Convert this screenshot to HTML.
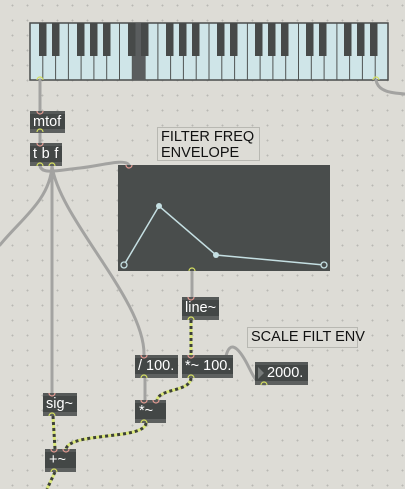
<!DOCTYPE html>
<html><head><style>
body{margin:0;width:405px;height:489px;overflow:hidden;background:#dddcd6;
background-image:radial-gradient(circle,#b9b9b4 0.8px,transparent 1.1px);background-size:15px 15px;background-position:5px 13px;
font-family:"Liberation Sans",sans-serif;position:relative}
.b{position:absolute;background:#434746;color:#fff;font-size:14.5px;box-sizing:border-box;border-top:3px solid #555958;border-bottom:4px solid #5d605f;padding-left:4px;line-height:16px;white-space:nowrap}
.c{position:absolute;border:1px solid #b8b8b2;box-sizing:border-box;font-size:14.5px;color:#111;padding:1px 3px;line-height:16px;background:#dddcd6;white-space:nowrap}
svg{position:absolute;left:0;top:0}
</style></head><body>
<svg width="405" height="489">
<rect x="30" y="23" width="358" height="57" fill="#cfe5e8" stroke="#4a4d4c" stroke-width="1.5"/>
<g stroke="#4f5352" stroke-width="1">
<line x1="42.8" y1="23" x2="42.8" y2="80"/><line x1="55.6" y1="23" x2="55.6" y2="80"/><line x1="68.4" y1="23" x2="68.4" y2="80"/><line x1="81.1" y1="23" x2="81.1" y2="80"/><line x1="93.9" y1="23" x2="93.9" y2="80"/><line x1="106.7" y1="23" x2="106.7" y2="80"/><line x1="119.5" y1="23" x2="119.5" y2="80"/><line x1="132.3" y1="23" x2="132.3" y2="80"/><line x1="145.1" y1="23" x2="145.1" y2="80"/><line x1="157.9" y1="23" x2="157.9" y2="80"/><line x1="170.6" y1="23" x2="170.6" y2="80"/><line x1="183.4" y1="23" x2="183.4" y2="80"/><line x1="196.2" y1="23" x2="196.2" y2="80"/><line x1="209" y1="23" x2="209" y2="80"/><line x1="221.8" y1="23" x2="221.8" y2="80"/><line x1="234.6" y1="23" x2="234.6" y2="80"/><line x1="247.4" y1="23" x2="247.4" y2="80"/><line x1="260.1" y1="23" x2="260.1" y2="80"/><line x1="272.9" y1="23" x2="272.9" y2="80"/><line x1="285.7" y1="23" x2="285.7" y2="80"/><line x1="298.5" y1="23" x2="298.5" y2="80"/><line x1="311.3" y1="23" x2="311.3" y2="80"/><line x1="324.1" y1="23" x2="324.1" y2="80"/><line x1="336.9" y1="23" x2="336.9" y2="80"/><line x1="349.6" y1="23" x2="349.6" y2="80"/><line x1="362.4" y1="23" x2="362.4" y2="80"/><line x1="375.2" y1="23" x2="375.2" y2="80"/>
</g>
<rect x="132.3" y="23" width="12.8" height="57" fill="#5a5d5e"/>
<g fill="#474a49">
<rect x="39" y="23" width="7.5" height="33"/><rect x="52" y="23" width="7.5" height="33"/>
<rect x="77" y="23" width="7.5" height="33"/><rect x="90" y="23" width="7.5" height="33"/><rect x="103" y="23" width="7.5" height="33"/>
<rect x="128" y="23" width="7.5" height="33"/><rect x="141" y="23" width="7.5" height="33"/>
<rect x="166" y="23" width="7.5" height="33"/><rect x="179" y="23" width="7.5" height="33"/><rect x="192" y="23" width="7.5" height="33"/>
<rect x="217" y="23" width="7.5" height="33"/><rect x="230" y="23" width="7.5" height="33"/>
<rect x="255" y="23" width="7.5" height="33"/><rect x="268" y="23" width="7.5" height="33"/><rect x="281" y="23" width="7.5" height="33"/>
<rect x="306" y="23" width="7.5" height="33"/><rect x="319" y="23" width="7.5" height="33"/>
<rect x="344" y="23" width="7.5" height="33"/><rect x="357" y="23" width="7.5" height="33"/><rect x="370" y="23" width="7.5" height="33"/>
</g>
<g fill="none" stroke="#a3a3a1" stroke-width="3" stroke-linecap="round">
<path d="M40 80 V111"/><path d="M40 132 V143"/>
<path d="M376 80 C378 92 392 93 405 94"/>
<path d="M40 166 C42 175 60 170 80 168 C100 166 125 158 129 165"/>
<path d="M52 166 C50 200 20 220 0 245"/>
<path d="M52 166 V393"/>
<path d="M52 166 C60 220 145 300 144 355"/>
<path d="M192 271 V297"/>
<path d="M145 378 V400"/>
<path d="M226 356 C230 340 238 348 245 360 C252 372 255 385 265 384"/>
</g>
<g fill="none" stroke-width="3">
<g stroke="#dbe87a"><path d="M191 320 V355"/><path d="M191 378 C190 392 160 388 157 400"/><path d="M53 416 L55 449"/><path d="M146 423 C145 440 70 432 66 449"/><path d="M55 472 L47 489"/></g>
<g stroke="#3c3f3a" stroke-dasharray="3 3"><path d="M191 320 V355"/><path d="M191 378 C190 392 160 388 157 400"/><path d="M53 416 L55 449"/><path d="M146 423 C145 440 70 432 66 449"/><path d="M55 472 L47 489"/></g>
</g>
<rect x="118" y="165" width="212" height="106" fill="#494d4c"/>
<polyline points="124,265 159,206 216,255 324,265" fill="none" stroke="#c5dfe2" stroke-width="1.5"/>
<circle cx="124" cy="265" r="3" fill="#494d4c" stroke="#c5dfe2" stroke-width="1.3"/>
<circle cx="159" cy="206" r="3" fill="#c5dfe2"/>
<circle cx="216" cy="255" r="3" fill="#c5dfe2"/>
<circle cx="324" cy="265" r="3" fill="#494d4c" stroke="#c5dfe2" stroke-width="1.3"/>
</svg>
<div class="b" style="left:30px;top:111px;width:35px;height:22px;padding-left:3px">mtof</div>
<div class="b" style="left:30px;top:143px;width:32px;height:23px;padding-left:3px;letter-spacing:0.3px">t b f</div>
<div class="c" style="left:157px;top:127px;width:103px;height:34px">FILTER FREQ<br>ENVELOPE</div>
<div class="b" style="left:182px;top:297px;width:37px;height:23px;padding-left:3px">line~</div>
<div class="c" style="left:247px;top:327px;width:111px;height:21px;padding-top:1px;padding-left:3px">SCALE FILT ENV</div>
<div class="b" style="left:135px;top:355px;width:43px;height:23px;padding-left:3px">/ 100.</div>
<div class="b" style="left:182px;top:355px;width:51px;height:23px;padding-left:3px">*~ 100.</div>
<div class="b" style="left:255px;top:362px;width:53px;height:23px;padding-left:12px">2000.</div>
<div style="position:absolute;left:258px;top:367px;width:0;height:0;border-left:6px solid #777b7a;border-top:6px solid transparent;border-bottom:6px solid transparent"></div>
<div class="b" style="left:43px;top:393px;width:34px;height:23px;padding-left:3px">sig~</div>
<div class="b" style="left:135px;top:400px;width:31px;height:23px">*~</div>
<div class="b" style="left:45px;top:449px;width:31px;height:23px">+~</div>
<svg width="405" height="489">
<g fill="none" stroke-width="1.2">
<g stroke="#e39a92"><path d="M37 111 a3 3 0 0 0 6 0"/><path d="M37 143 a3 3 0 0 0 6 0"/><path d="M126 165 a3 3 0 0 0 6 0"/><path d="M188 297 a3 3 0 0 0 6 0"/><path d="M141 355 a3 3 0 0 0 6 0"/><path d="M188 355 a3 3 0 0 0 6 0"/><path d="M49 393 a3 3 0 0 0 6 0"/><path d="M141 400 a3 3 0 0 0 6 0"/><path d="M153 400 a3 3 0 0 0 6 0"/><path d="M51 449 a3 3 0 0 0 6 0"/><path d="M63 449 a3 3 0 0 0 6 0"/></g>
<g stroke="#d6e060"><path d="M37 80 a3 3 0 0 1 6 0"/><path d="M373 80 a3 3 0 0 1 6 0"/><path d="M37 132 a3 3 0 0 1 6 0"/><path d="M37 166 a3 3 0 0 1 6 0"/><path d="M49 166 a3 3 0 0 1 6 0"/><path d="M189 271 a3 3 0 0 1 6 0"/><path d="M188 320 a3 3 0 0 1 6 0"/><path d="M141 378 a3 3 0 0 1 6 0"/><path d="M188 378 a3 3 0 0 1 6 0"/><path d="M261 385 a3 3 0 0 1 6 0"/><path d="M49 416 a3 3 0 0 1 6 0"/><path d="M141 423 a3 3 0 0 1 6 0"/><path d="M51 472 a3 3 0 0 1 6 0"/></g>
</g>
</svg>
</body></html>
